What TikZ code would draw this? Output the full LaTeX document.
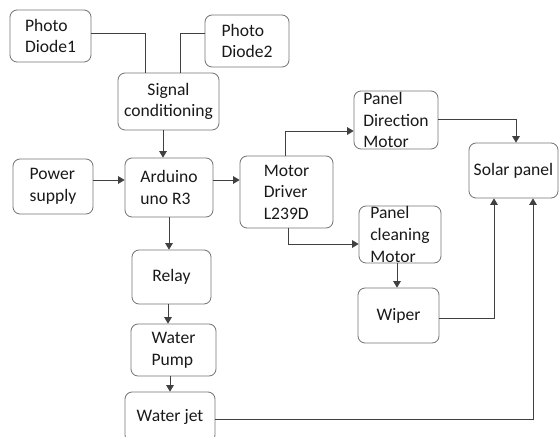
\documentclass[tikz,border=0pt]{standalone}
\usepackage{fontspec}
\setmainfont{Carlito}
\usepackage{tikz}
\usetikzlibrary{positioning, arrows.meta, calc}

\begin{document}
\begin{tikzpicture}[
    x=0.03cm, y=-0.03cm,
    box/.style={rectangle, draw=black!55, line width=0.7pt, rounded corners=6pt, inner sep=0pt, align=left, font=\fontsize{15}{18.4}\selectfont, text=black!90},
    wh/.style 2 args={minimum width=#1*0.03cm, minimum height=#2*0.03cm},
    line/.style={draw=black!75, line width=0.7pt},
    arrow/.style={line, -{Triangle[length=5.5pt, width=6.5pt]}}
]
\useasboundingbox (0,0) rectangle (559,436);

\node[box, wh={81}{52}] (pd1) at (50.5, 36) {Photo\\Diode1};
\node[box, wh={84}{52}] (pd2) at (247, 41) {Photo\\Diode2};
\node[box, wh={101}{57}, align=center] (sig) at (168.5, 101.5) {Signal\\conditioning};
\node[box, wh={80}{55}] (pwr) at (53, 186.5) {Power\\supply};
\node[box, wh={88}{59}] (ard) at (169, 187.5) {Arduino\\uno R3};
\node[box, wh={93}{72}] (mdrv) at (286.5, 192) {Motor\\Driver\\L239D};
\node[box, wh={79}{54}] (relay) at (171.5, 277) {Relay};
\node[box, wh={85}{52}] (pump) at (173.5, 350) {Water\\Pump};
\node[box, wh={90}{50}] (jet) at (170, 417) {Water jet};
\node[box, wh={84}{58}] (pdm) at (396, 120) {Panel\\Direction\\Motor};
\node[box, wh={82}{57}] (pcm) at (400, 234.5) {Panel\\cleaning\\Motor};
\node[box, wh={81}{55}] (wiper) at (398.5, 315.5) {Wiper};
\node[box, wh={89}{55}] (solar) at (513.5, 170.5) {Solar panel};

\coordinate (sigout) at ($(sig.south)+(-5.5,0)$);
\coordinate (pwrout) at ($(pwr.east)+(0,-6.5)$);
\coordinate (ardout) at ($(ard.east)+(0,-7.5)$);
\coordinate (relayout) at ($(relay.south)+(-3.5,0)$);
\coordinate (pumpout) at ($(pump.south)+(-3.5,0)$);
\coordinate (pcmout) at ($(pcm.south)+(-3,0)$);

\draw[line] ($(pd1.east)+(0,-3)$) -| ($(sig.north)+(-23.5,0)$);
\draw[line] ($(pd2.west)+(0,-8)$) -| ($(sig.north)+(11.5,0)$);
\draw[arrow] (sigout) -- (sigout |- ard.north);

\draw[arrow] (pwrout) -- (pwrout -| ard.west);
\draw[arrow] (ardout) -- (ardout -| mdrv.west);
\draw[arrow] (ard.south) -- (ard.south |- relay.north);
\draw[arrow] (relayout) -- (relayout |- pump.north);
\draw[arrow] (pumpout) -- (pumpout |- jet.north);

\draw[arrow] ($(mdrv.north)+(-1.5,0)$) |- ($(pdm.west)+(0,11)$);
\draw[arrow] ($(mdrv.south)+(1.5,0)$) |- ($(pcm.west)+(0,9.5)$);
\draw[arrow] ($(pdm.east)+(0,-1)$) -| ($(solar.north)+(2.5,0)$);
\draw[arrow] (pcmout) -- (pcmout |- wiper.north);
\draw[arrow] ($(wiper.east)+(0,2.5)$) -| ($(solar.south)+(-19.5,0)$);
\draw[arrow] ($(jet.east)+(0,2)$) -| ($(solar.south)+(19.5,0)$);

\end{tikzpicture}
\end{document}
